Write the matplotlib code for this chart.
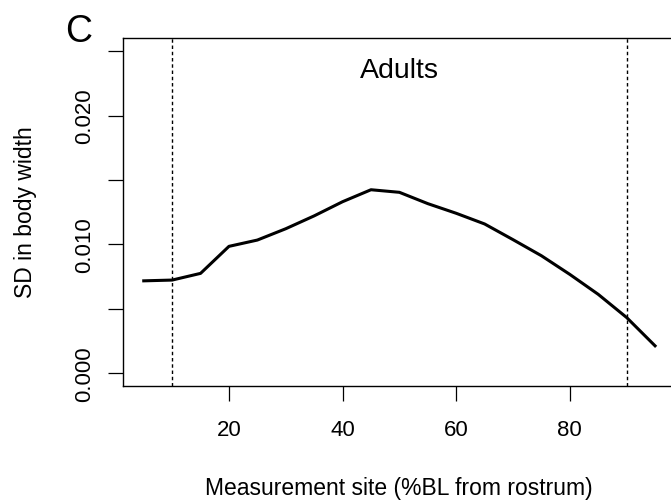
"""SD in body width along the body, adults (panel C)."""

import matplotlib

matplotlib.use("Agg")
import matplotlib.pyplot as plt

plt.rcParams["font.family"] = ["Liberation Sans", "DejaVu Sans"]

# measurement sites (%BL from rostrum) and SD of body width
site = [5, 10, 15, 20, 25, 30, 35, 40, 45, 50, 55, 60, 65, 70, 75, 80, 85, 90, 95]
sd_width = [0.00715, 0.00721, 0.00773, 0.00983, 0.01032, 0.0112, 0.0122, 0.0133,
            0.01423, 0.01403, 0.01315, 0.0124, 0.01157, 0.01035, 0.0091, 0.00765,
            0.0061, 0.0043, 0.0021]
cutoffs = [10, 90]
xticks = [20, 40, 60, 80]
yticks = [0.0, 0.005, 0.010, 0.015, 0.020, 0.025]
ytick_labels = ["0.000", "", "0.010", "", "0.020", ""]

W, H = 671, 502
fig = plt.figure(figsize=(W / 100, H / 100), dpi=100)
# plot region in pixels: left 123.3, right 675.5 (just past the edge), top 39.3, bottom 386.7
ax = fig.add_axes([123.3 / W, 1 - 386.7 / H, (675.5 - 123.3) / W, (386.7 - 39.3) / H])

ax.plot(site, sd_width, color="black", lw=2.2, solid_joinstyle="round")
for c in cutoffs:
    ax.axvline(c, color="black", lw=1.0, linestyle=(0, (2.5, 2)))

ax.set_xlim(1.4, 98.6)
ax.set_ylim(-0.001, 0.026)
ax.set_xticks(xticks)
ax.set_yticks(yticks)
ax.set_yticklabels(ytick_labels, rotation=90, va="center")

for s in ax.spines.values():
    s.set_linewidth(1.0)
ax.tick_params(axis="both", length=10.8, width=0.9, labelsize=16, colors="black")
ax.tick_params(axis="x", pad=13.5)
ax.tick_params(axis="y", pad=9.5)

fig.text(399 / W, 1 - 495 / H, "Measurement site (%BL from rostrum)",
         ha="center", va="baseline", fontsize=16.5)
fig.text(32 / W, 1 - 212.5 / H, "SD in body width", rotation=90,
         rotation_mode="anchor", ha="center", va="baseline", fontsize=16.5)
fig.text(399 / W, 1 - 78 / H, "Adults", ha="center", va="baseline", fontsize=20.5)
fig.text(65 / W, 1 - 41.7 / H, "C", ha="left", va="baseline", fontsize=27)

fig.savefig("out.png", dpi=100)
